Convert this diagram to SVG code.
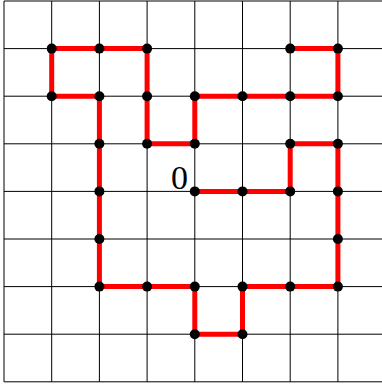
<svg xmlns="http://www.w3.org/2000/svg" width="382" height="385" viewBox="0 0 382 385">
<style>
.grid line{stroke:#000;stroke-width:1}
.walk{fill:none;stroke:#ff0000;stroke-width:5;stroke-linejoin:miter;stroke-linecap:butt}
.dot{fill:#000}
.lbl{font-family:"Liberation Serif","DejaVu Serif",serif;font-size:34px;fill:#000}
</style>
<rect width="382" height="385" fill="#fff"/>
<g id="grid" class="grid">
<line x1="4" y1="1" x2="4" y2="381.8"/>
<line x1="51.7" y1="1" x2="51.7" y2="381.8"/>
<line x1="99.4" y1="1" x2="99.4" y2="381.8"/>
<line x1="147.1" y1="1" x2="147.1" y2="381.8"/>
<line x1="194.8" y1="1" x2="194.8" y2="381.8"/>
<line x1="242.5" y1="1" x2="242.5" y2="381.8"/>
<line x1="290.2" y1="1" x2="290.2" y2="381.8"/>
<line x1="337.9" y1="1" x2="337.9" y2="381.8"/>
<line x1="4" y1="1" x2="386" y2="1"/>
<line x1="4" y1="48.6" x2="386" y2="48.6"/>
<line x1="4" y1="96.2" x2="386" y2="96.2"/>
<line x1="4" y1="143.8" x2="386" y2="143.8"/>
<line x1="4" y1="191.4" x2="386" y2="191.4"/>
<line x1="4" y1="239" x2="386" y2="239"/>
<line x1="4" y1="286.6" x2="386" y2="286.6"/>
<line x1="4" y1="334.2" x2="386" y2="334.2"/>
<line x1="4" y1="381.8" x2="386" y2="381.8"/>
</g>
<g id="connectors">
<path class="walk" d="M194.8,191.4 L242.5,191.4 L290.2,191.4 L290.2,143.8 L337.9,143.8 L337.9,191.4 L337.9,239 L337.9,286.6 L290.2,286.6 L242.5,286.6 L242.5,334.2 L194.8,334.2 L194.8,286.6 L147.1,286.6 L99.4,286.6 L99.4,239 L99.4,191.4 L99.4,143.8 L99.4,96.2 L51.7,96.2 L51.7,48.6 L99.4,48.6 L147.1,48.6 L147.1,96.2 L147.1,143.8 L194.8,143.8 L194.8,96.2 L242.5,96.2 L290.2,96.2 L337.9,96.2 L337.9,48.6 L290.2,48.6"/>
</g>
<g id="origin"><circle class="dot" cx="194.8" cy="191.4" r="5"/><text class="lbl" x="188" y="189" text-anchor="end">0</text></g>
<g id="p1"><circle class="dot" cx="242.5" cy="191.4" r="5"/></g>
<g id="p2"><circle class="dot" cx="290.2" cy="191.4" r="5"/></g>
<g id="p3"><circle class="dot" cx="290.2" cy="143.8" r="5"/></g>
<g id="p4"><circle class="dot" cx="337.9" cy="143.8" r="5"/></g>
<g id="p5"><circle class="dot" cx="337.9" cy="191.4" r="5"/></g>
<g id="p6"><circle class="dot" cx="337.9" cy="239" r="5"/></g>
<g id="p7"><circle class="dot" cx="337.9" cy="286.6" r="5"/></g>
<g id="p8"><circle class="dot" cx="290.2" cy="286.6" r="5"/></g>
<g id="p9"><circle class="dot" cx="242.5" cy="286.6" r="5"/></g>
<g id="p10"><circle class="dot" cx="242.5" cy="334.2" r="5"/></g>
<g id="p11"><circle class="dot" cx="194.8" cy="334.2" r="5"/></g>
<g id="p12"><circle class="dot" cx="194.8" cy="286.6" r="5"/></g>
<g id="p13"><circle class="dot" cx="147.1" cy="286.6" r="5"/></g>
<g id="p14"><circle class="dot" cx="99.4" cy="286.6" r="5"/></g>
<g id="p15"><circle class="dot" cx="99.4" cy="239" r="5"/></g>
<g id="p16"><circle class="dot" cx="99.4" cy="191.4" r="5"/></g>
<g id="p17"><circle class="dot" cx="99.4" cy="143.8" r="5"/></g>
<g id="p18"><circle class="dot" cx="99.4" cy="96.2" r="5"/></g>
<g id="p19"><circle class="dot" cx="51.7" cy="96.2" r="5"/></g>
<g id="p20"><circle class="dot" cx="51.7" cy="48.6" r="5"/></g>
<g id="p21"><circle class="dot" cx="99.4" cy="48.6" r="5"/></g>
<g id="p22"><circle class="dot" cx="147.1" cy="48.6" r="5"/></g>
<g id="p23"><circle class="dot" cx="147.1" cy="96.2" r="5"/></g>
<g id="p24"><circle class="dot" cx="147.1" cy="143.8" r="5"/></g>
<g id="p25"><circle class="dot" cx="194.8" cy="143.8" r="5"/></g>
<g id="p26"><circle class="dot" cx="194.8" cy="96.2" r="5"/></g>
<g id="p27"><circle class="dot" cx="242.5" cy="96.2" r="5"/></g>
<g id="p28"><circle class="dot" cx="290.2" cy="96.2" r="5"/></g>
<g id="p29"><circle class="dot" cx="337.9" cy="96.2" r="5"/></g>
<g id="p30"><circle class="dot" cx="337.9" cy="48.6" r="5"/></g>
<g id="p31"><circle class="dot" cx="290.2" cy="48.6" r="5"/></g>
</svg>
